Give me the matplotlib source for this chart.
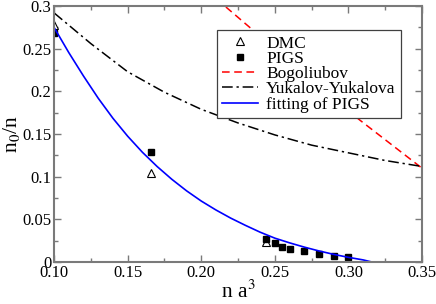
import matplotlib.pyplot as plt
from matplotlib.ticker import MultipleLocator, FuncFormatter

plt.rcParams['font.family'] = ['Liberation Serif', 'DejaVu Serif']
plt.rcParams['mathtext.fontset'] = 'stix'

# DMC and PIGS results
dmc_x = [0.100, 0.166, 0.244]
dmc_y = [0.278, 0.104, 0.023]
pigs_x = [0.100, 0.166, 0.244, 0.250, 0.255, 0.260, 0.270, 0.280, 0.290, 0.300]
pigs_y = [0.268, 0.129, 0.027, 0.022, 0.018, 0.015, 0.013, 0.010, 0.007, 0.006]

# curves
bog_x = [0.210, 0.216, 0.235, 0.260, 0.280, 0.308, 0.350]
bog_y = [0.309, 0.300, 0.272, 0.234, 0.205, 0.166, 0.110]
yy_x = [0.100, 0.125, 0.150, 0.175, 0.200, 0.225, 0.250, 0.275, 0.300, 0.325, 0.350]
yy_y = [0.292, 0.256, 0.223, 0.199, 0.179, 0.163, 0.149, 0.137, 0.128, 0.119, 0.112]
fit_x = [0.100, 0.110, 0.120, 0.130, 0.140, 0.150, 0.160, 0.170, 0.180, 0.190, 0.200,
         0.210, 0.220, 0.230, 0.240, 0.250, 0.260, 0.270, 0.280, 0.290, 0.300, 0.310, 0.316]
fit_y = [0.275, 0.2455, 0.218, 0.192, 0.1685, 0.1475, 0.1287, 0.112, 0.097, 0.0835, 0.0715,
         0.061, 0.0515, 0.043, 0.035, 0.028, 0.0225, 0.0175, 0.013, 0.009, 0.0055, 0.0025, 0.0]

fig = plt.figure(figsize=(4.36, 3.04), dpi=100)
ax = fig.add_axes([0.124, 0.138, 0.844, 0.842])

ax.plot(dmc_x, dmc_y, linestyle='none', marker='^', markersize=6,
        markerfacecolor='white', markeredgecolor='black', markeredgewidth=0.8, label='DMC')
ax.plot(pigs_x, pigs_y, linestyle='none', marker='s', markersize=5,
        color='black', label='PIGS')
ax.plot(bog_x, bog_y, color='red', linestyle=(0, (5, 3)), linewidth=1.1, label='Bogoliubov')
ax.plot(yy_x, yy_y, color='black', linestyle=(0, (7, 2.5, 1.5, 2.5)), linewidth=1.1,
        label='Yukalov-Yukalova')
ax.plot(fit_x, fit_y, color='blue', linewidth=1.2, label='fitting of PIGS')

ax.set_xlim(0.10, 0.35)
ax.set_ylim(0, 0.3)
ax.xaxis.set_major_locator(MultipleLocator(0.05))
ax.xaxis.set_minor_locator(MultipleLocator(0.025))
ax.yaxis.set_major_locator(MultipleLocator(0.05))
ax.yaxis.set_minor_locator(MultipleLocator(0.025))
ax.xaxis.set_major_formatter(FuncFormatter(lambda v, p: '%.2f' % v))
ax.yaxis.set_major_formatter(FuncFormatter(lambda v, p: ('%.2f' % v).rstrip('0').rstrip('.')))

for s in ax.spines.values():
    s.set_color('#7a7a7a')
    s.set_linewidth(1.5)
ax.tick_params(which='both', direction='in', top=True, right=True, color='#7a7a7a',
               labelsize=12, pad=2)
ax.tick_params(which='major', length=5, width=1)
ax.tick_params(which='minor', length=3, width=1)

ax.set_xlabel(r'n a$^3$', fontsize=15.5, labelpad=0)
ax.set_ylabel(r'n$_0$/n', fontsize=15.5, labelpad=0)

leg = ax.legend(loc='upper left', bbox_to_anchor=(0.442, 0.906), fontsize=12.5,
                frameon=True, fancybox=False, framealpha=1, edgecolor='#404040',
                borderpad=0.3, labelspacing=-0.05, handlelength=2.1, handletextpad=0.45,
                borderaxespad=0)
leg.get_frame().set_linewidth(0.9)

plt.savefig('out.png', dpi=100)
plt.close('all')
